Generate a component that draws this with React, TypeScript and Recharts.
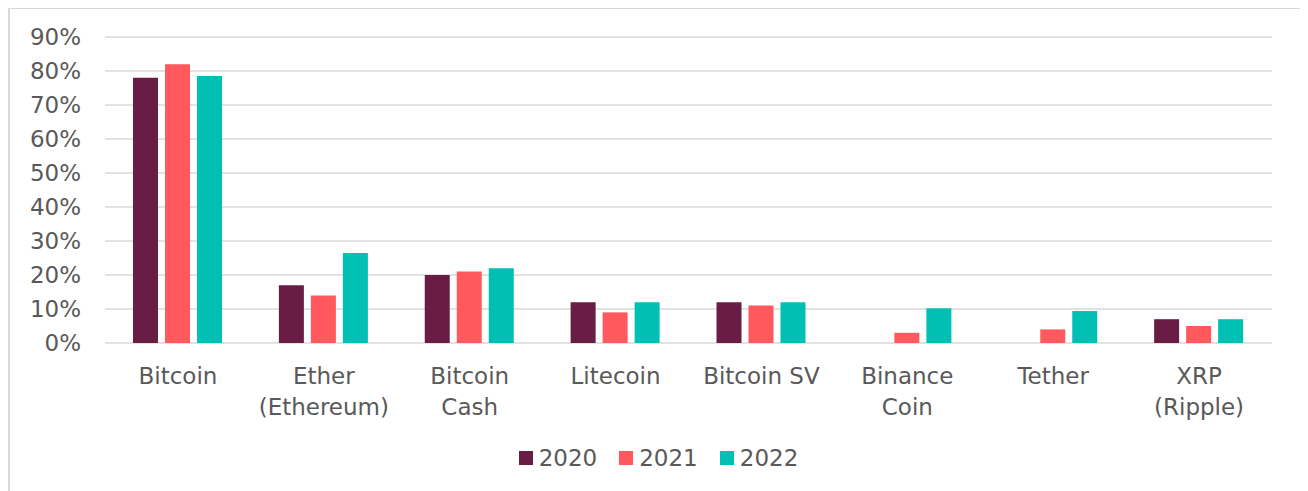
import React from "react";
import { BarChart, Bar, XAxis, YAxis, CartesianGrid, Legend } from "recharts";

const categories = ["Bitcoin", "Ether (Ethereum)", "Bitcoin Cash", "Litecoin", "Bitcoin SV", "Binance Coin", "Tether", "XRP (Ripple)"];
const tickLabels: string[][] = [
  ["Bitcoin"],
  ["Ether", "(Ethereum)"],
  ["Bitcoin", "Cash"],
  ["Litecoin"],
  ["Bitcoin SV"],
  ["Binance", "Coin"],
  ["Tether"],
  ["XRP", "(Ripple)"],
];
const series2020: (number | null)[] = [78, 17, 20, 12, 12, null, null, 7];
const series2021: (number | null)[] = [82, 14, 21, 9, 11, 3, 4, 5];
const series2022: (number | null)[] = [78.5, 26.5, 22, 12, 12, 10.2, 9.4, 7];
const yTicks = [0, 10, 20, 30, 40, 50, 60, 70, 80, 90];
const seriesNames = ["2020", "2021", "2022"];
const colors = ["#6A1D44", "#FF595E", "#00BFB3"];

const data = categories.map((c, i) => ({
  name: c,
  idx: i,
  "2020": series2020[i],
  "2021": series2021[i],
  "2022": series2022[i],
}));

const FONT = "'DejaVu Sans', Verdana, sans-serif";
const TEXT = "#595959";

const XTick = (props: any) => {
  const { x, y, index } = props;
  const lines = tickLabels[index] || [];
  return (
    <text x={x} y={y} textAnchor="middle" fill={TEXT} fontSize={23} fontFamily={FONT}>
      {lines.map((l, i) => (
        <tspan key={i} x={x} dy={i === 0 ? 41 : 31}>
          {l}
        </tspan>
      ))}
    </text>
  );
};

const LegendContent = () => (
  <div
    style={{
      display: "flex",
      justifyContent: "center",
      alignItems: "center",
      height: 30,
      paddingLeft: 7,
      fontFamily: FONT,
      fontSize: 23,
      color: TEXT,
    }}
  >
    {seriesNames.map((s, i) => (
      <div key={s} style={{ display: "flex", alignItems: "center", marginRight: i < seriesNames.length - 1 ? 22 : 0 }}>
        <div style={{ width: 14, height: 14, background: colors[i], marginRight: 6 }} />
        <span style={{ lineHeight: "30px" }}>{s}</span>
      </div>
    ))}
  </div>
);

export default function App() {
  return (
    <div
      style={{
        width: 1294,
        height: 490,
        marginTop: -1,
        border: "2px solid #d9d9d9",
        boxSizing: "border-box",
        background: "#fff",
        fontFamily: FONT,
      }}
    >
      <BarChart
        width={1290}
        height={486}
        data={data}
        margin={{ top: 28, right: 28, left: 0, bottom: 22 }}
        barCategoryGap={28}
        barGap={7}
      >
        <CartesianGrid vertical={false} stroke="#d9d9d9" strokeWidth={1.3} />
        <XAxis
          dataKey="name"
          axisLine={false}
          tickLine={false}
          tickSize={0}
          tickMargin={0}
          height={100}
          interval={0}
          tick={<XTick />}
        />
        <YAxis
          domain={[0, 90]}
          ticks={yTicks}
          width={95}
          axisLine={false}
          tickLine={false}
          tickSize={0}
          tickMargin={24}
          interval={0}
          tickFormatter={(v: number) => `${v}%`}
          tick={{ fill: TEXT, fontSize: 23, fontFamily: FONT }}
        />
        <Legend
          verticalAlign="bottom"
          content={<LegendContent />}
          wrapperStyle={{ left: 0, width: 1290 }}
        />
        {seriesNames.map((s, i) => (
          <Bar key={s} dataKey={s} fill={colors[i]} isAnimationActive={false} />
        ))}
      </BarChart>
    </div>
  );
}
